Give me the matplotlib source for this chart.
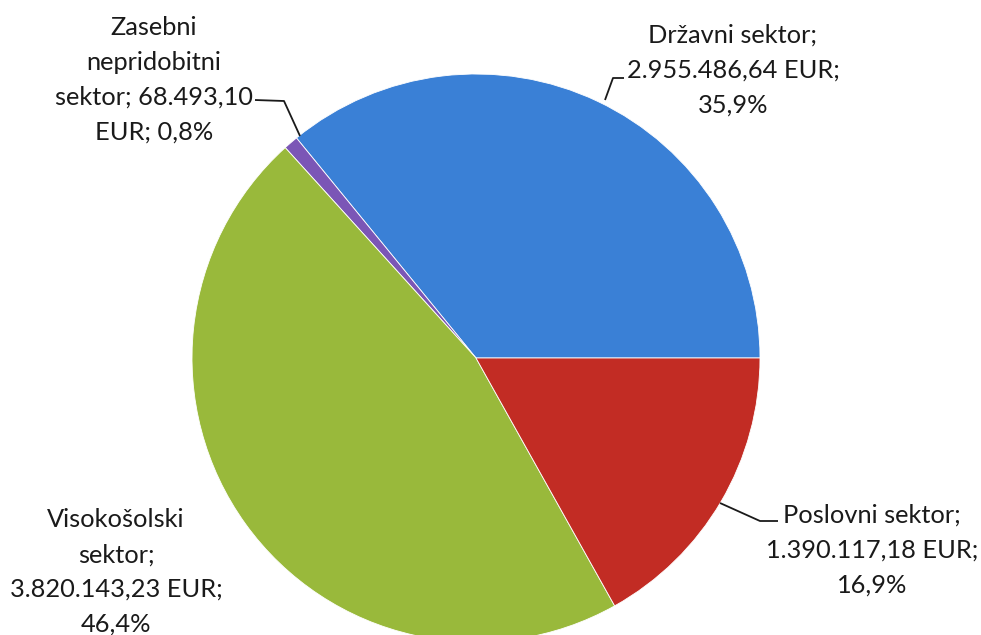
import matplotlib.pyplot as plt

# sector data (EUR) in drawing order, counter-clockwise from 3 o'clock
sectors = ['Državni sektor', 'Zasebni nepridobitni sektor', 'Visokošolski sektor', 'Poslovni sektor']
amounts = [2955486.64, 68493.10, 3820143.23, 1390117.18]
amount_labels = ['2.955.486,64 EUR', '68.493,10 EUR', '3.820.143,23 EUR', '1.390.117,18 EUR']
shares = ['35,9%', '0,8%', '46,4%', '16,9%']
colors = ['#3a80d6', '#7b56b6', '#99b93b', '#c22c24']

# label text layout (line breaks as in the original)
label_texts = [
    f"{sectors[0]};\n{amount_labels[0]};\n{shares[0]}",
    f"Zasebni\nnepridobitni\nsektor; {amount_labels[1].split()[0]}\nEUR; {shares[1]}",
    f"Visokošolski\nsektor;\n{amount_labels[2]};\n{shares[2]}",
    f"{sectors[3]};\n{amount_labels[3]};\n{shares[3]}",
]

W, H = 981, 635
fig = plt.figure(figsize=(W / 100, H / 100), dpi=100)
ax = fig.add_axes([0, 0, 1, 1])

cx, cy, r = 476, H - 358, 284
ax.pie(amounts, colors=colors, startangle=0, counterclock=True,
       center=(cx, cy), radius=r, frame=True,
       wedgeprops=dict(linewidth=0.6, edgecolor='white'))
ax.set_xlim(0, W)
ax.set_ylim(0, H)
ax.set_aspect('equal')
ax.axis('off')

font = dict(family=['Lato', 'DejaVu Sans'], fontsize=18.3, color='#1a1a1a',
            ha='center', va='center', linespacing=1.62)

# label centres in pixel coords (y from top)
label_pos = [(733, 70), (154, 80), (116, 572), (872, 550)]
for txt, (x, y) in zip(label_texts, label_pos):
    ax.text(x, H - y, txt, **font)

# leader lines
leaders = [
    [(624, 78), (613, 78), (605, 100)],
    [(255, 100), (284, 101), (300, 136)],
    [(778, 521), (760, 521), (720, 503)],
]
for pts in leaders:
    xs = [p[0] for p in pts]
    ys = [H - p[1] for p in pts]
    ax.plot(xs, ys, color='#1a1a1a', linewidth=1.3, solid_capstyle='butt')

fig.savefig('out.png', dpi=100)
